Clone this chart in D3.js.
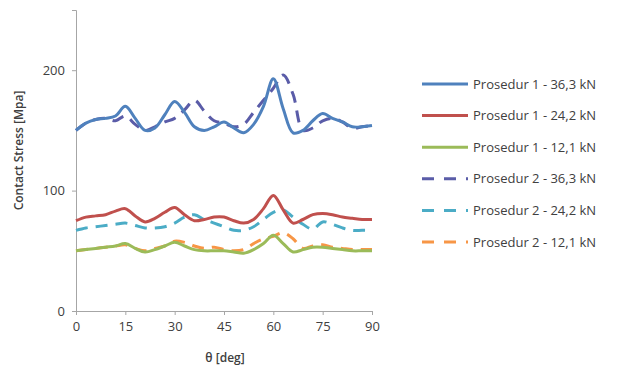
<!DOCTYPE html>
<html>
<head>
<meta charset="utf-8">
<script src="https://cdn.jsdelivr.net/npm/d3@7"></script>
<style>
  body { margin: 0; background: #fff; }
  text { font-family: "Open Sans", sans-serif; fill: #404040; }
</style>
</head>
<body>
<div id="chart-area"></div>
<script>
// angle samples (deg)
const theta = [0, 3, 6, 9, 12, 15, 18, 21, 24, 27, 30, 33, 36, 39, 42, 45, 48, 51, 54, 57, 60, 63, 66, 69, 72, 75, 78, 81, 84, 87, 90];

// contact stress [MPa] per series
const p1_363 = [150, 156, 159, 160, 162, 170, 160, 150, 152, 163, 174, 165, 153, 150, 153, 157, 152, 148, 155, 170, 193, 168, 148, 150, 158, 164, 160, 157, 153, 153, 154];
const p1_242 = [75, 78, 79, 80, 83, 85, 79, 74, 77, 82, 86, 80, 75, 76, 78, 78, 75, 73, 76, 85, 96, 84, 73, 76, 80, 81, 80, 78, 77, 76, 76];
const p1_121 = [50, 51, 52, 53, 54, 56, 52, 49, 51, 54, 57, 54, 51, 50, 50, 50, 49, 48, 51, 56, 63, 56, 49, 51, 53, 53, 52, 51, 50, 50, 50];
const p2_363 = [150, 156, 159, 160, 158, 162, 155, 150, 153, 157, 160, 167, 175, 166, 158, 156, 153, 155, 165, 175, 185, 196, 180, 150, 152, 158, 160, 157, 152, 153, 154];
const p2_242 = [67, 69, 70, 71, 72, 73, 71, 69, 69, 70, 73, 78, 80, 76, 73, 70, 67, 67, 70, 76, 82, 84, 78, 72, 68, 74, 72, 69, 67, 67, 67];
const p2_121 = [50, 51, 52, 53, 54, 55, 52, 50, 52, 54, 58, 57, 54, 52, 53, 51, 50, 51, 56, 60, 62, 65, 60, 52, 54, 55, 53, 52, 51, 51, 51];

const seriesNames = ['Prosedur 1 - 36,3 kN', 'Prosedur 1 - 24,2 kN', 'Prosedur 1 - 12,1 kN',
                     'Prosedur 2 - 36,3 kN', 'Prosedur 2 - 24,2 kN', 'Prosedur 2 - 12,1 kN'];
const xTicks = [0, 15, 30, 45, 60, 75, 90];
const yTicks = [0, 100, 200];

const series = [
  { name: seriesNames[0], values: p1_363, color: '#4F81BD', dash: null },
  { name: seriesNames[1], values: p1_242, color: '#C0504D', dash: null },
  { name: seriesNames[2], values: p1_121, color: '#9BBB59', dash: null },
  { name: seriesNames[3], values: p2_363, color: '#5A5CA8', dash: '12,8' },
  { name: seriesNames[4], values: p2_242, color: '#4BACC6', dash: '12,8' },
  { name: seriesNames[5], values: p2_121, color: '#F79646', dash: '12,8' }
];

const W = 624, H = 374;
const margin = { left: 76, right: 252, top: 10, bottom: 63 };
const width = W - margin.left - margin.right;
const height = H - margin.top - margin.bottom;

const svg = d3.select('#chart-area')
  .append('svg')
  .attr('width', W)
  .attr('height', H);

const g = svg.append('g')
  .attr('transform', 'translate(' + margin.left + ',' + margin.top + ')');

const x = d3.scaleLinear().domain([0, 90]).range([0, width]);
const y = d3.scaleLinear().domain([0, 250]).range([height, 0]);

// x axis
const xAxis = g.append('g')
  .attr('transform', 'translate(0,' + height + ')')
  .call(d3.axisBottom(x).tickValues(xTicks).tickSize(4).tickPadding(7));
xAxis.selectAll('text').attr('font-size', '13px');

// y axis
const yAxis = g.append('g')
  .call(d3.axisLeft(y).tickValues(yTicks).tickSize(4).tickPadding(7));
yAxis.selectAll('text').attr('font-size', '13px');

g.selectAll('.domain, .tick line').attr('stroke', '#a6a6a6');

// lines
const line = d3.line()
  .x((d, i) => x(theta[i]))
  .y(d => y(d))
  .curve(d3.curveCatmullRom.alpha(0.5));

// dashed series drawn first so solid lines sit on top like the original
const order = [3, 4, 5, 0, 1, 2];
order.forEach(k => {
  const s = series[k];
  g.append('path')
    .datum(s.values)
    .attr('fill', 'none')
    .attr('stroke', s.color)
    .attr('stroke-width', 3)
    .attr('stroke-dasharray', s.dash)
    .attr('d', line);
});

// axis labels
g.append('text')
  .attr('x', width / 2 + 1)
  .attr('y', height + 51)
  .attr('text-anchor', 'middle')
  .attr('font-size', '12px')
  .attr('font-weight', 600)
  .text('θ [deg]');

g.append('text')
  .attr('transform', 'rotate(-90)')
  .attr('x', -height / 2 + 10)
  .attr('y', -53)
  .attr('text-anchor', 'middle')
  .attr('font-size', '12px')
  .attr('font-weight', 600)
  .text('Contact Stress [Mpa]');

// legend
const legend = svg.append('g').attr('transform', 'translate(422,84)');
series.forEach((s, i) => {
  const row = legend.append('g').attr('transform', 'translate(0,' + (i * 31.6) + ')');
  row.append('line')
    .attr('x1', 0).attr('x2', 46)
    .attr('stroke', s.color)
    .attr('stroke-width', 3)
    .attr('stroke-dasharray', s.dash ? '12,10' : null);
  row.append('text')
    .attr('x', 51)
    .attr('dy', '0.35em')
    .attr('font-size', '13px')
    .text(s.name);
});
</script>
</body>
</html>
